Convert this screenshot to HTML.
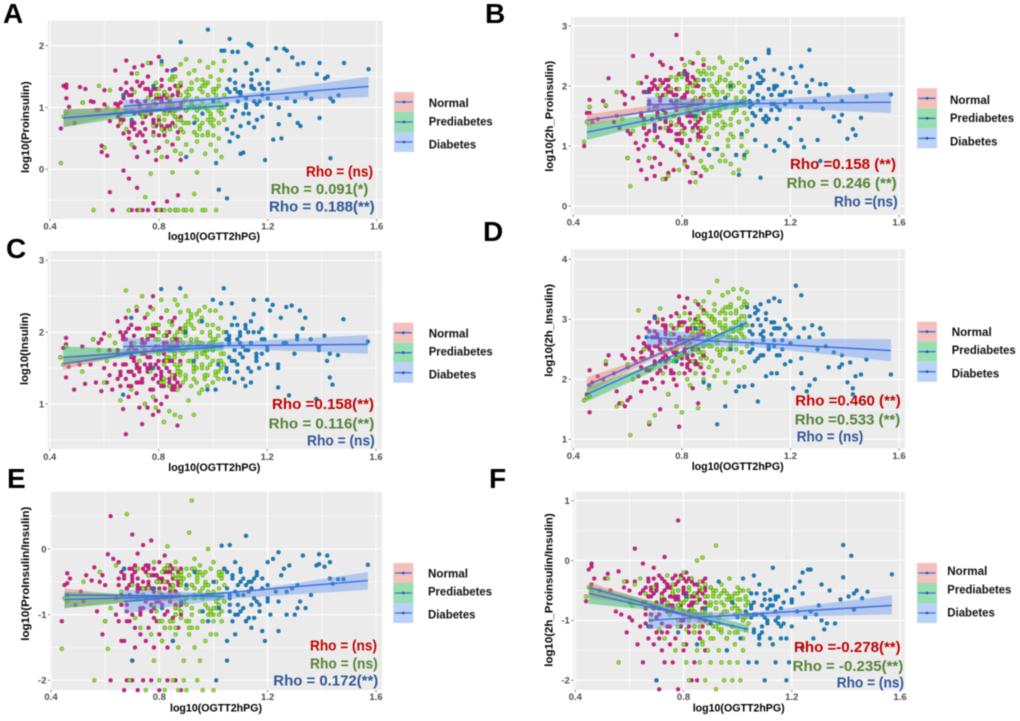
<!DOCTYPE html>
<html lang="en">
<head>
<meta charset="utf-8">
<title>OGTT scatter panels</title>
<style>
html,body{margin:0;padding:0;background:#fff;width:1020px;height:721px;overflow:hidden}
svg{display:block;font-family:"Liberation Sans",Arial,sans-serif;filter:blur(.4px)}
.letter{font-size:28px;font-weight:700;fill:#000}
.axt{font-size:11px;font-weight:700;fill:#000}
.leg{font-size:12px;font-weight:700;fill:#111}
.rho{font-size:15px;font-weight:700}
.r{fill:#C00000}.g{fill:#548235}.b{fill:#2F5597}
</style>
</head>
<body>
<svg id="figure" xmlns="http://www.w3.org/2000/svg" width="1020" height="721" viewBox="0 0 1020 721">
<rect width="1020" height="721" fill="#fff"/>
<g id="plots"></g>

<text class="letter" x="3" y="23">A</text>
<text class="letter" x="485" y="23">B</text>
<text class="letter" x="6" y="258">C</text>
<text class="letter" x="483" y="241">D</text>
<text class="letter" x="7" y="488">E</text>
<text class="letter" x="489" y="488">F</text>

<text class="axt" x="168" y="240" textLength="92" lengthAdjust="spacingAndGlyphs">log10(OGTT2hPG)</text>
<text class="axt" x="691.7" y="238" textLength="92" lengthAdjust="spacingAndGlyphs">log10(OGTT2hPG)</text>
<text class="axt" x="168.3" y="471" textLength="92" lengthAdjust="spacingAndGlyphs">log10(OGTT2hPG)</text>
<text class="axt" x="691.7" y="470" textLength="92" lengthAdjust="spacingAndGlyphs">log10(OGTT2hPG)</text>
<text class="axt" x="170" y="711.7" textLength="92" lengthAdjust="spacingAndGlyphs">log10(OGTT2hPG)</text>
<text class="axt" x="692.7" y="711.7" textLength="92" lengthAdjust="spacingAndGlyphs">log10(OGTT2hPG)</text>

<text class="axt" transform="translate(29 173) rotate(-90)" textLength="91.7" lengthAdjust="spacingAndGlyphs">log10(Proinsulin)</text>
<text class="axt" transform="translate(553 171.7) rotate(-90)" textLength="111" lengthAdjust="spacingAndGlyphs">log10(2h_Proinsulin)</text>
<text class="axt" transform="translate(28 385) rotate(-90)" textLength="72.3" lengthAdjust="spacingAndGlyphs">log10(Insulin)</text>
<text class="axt" transform="translate(552.7 376.7) rotate(-90)" textLength="92.7" lengthAdjust="spacingAndGlyphs">log10(2h_Insulin)</text>
<text class="axt" transform="translate(29 640.7) rotate(-90)" textLength="134" lengthAdjust="spacingAndGlyphs">log10(ProInsulin/Insulin)</text>
<text class="axt" transform="translate(552.7 666.7) rotate(-90)" textLength="153.4" lengthAdjust="spacingAndGlyphs">log10(2h_Proinsulin/Insulin)</text>

<text class="rho r" x="306" y="176.7" textLength="67" lengthAdjust="spacingAndGlyphs">Rho = (ns)</text>
<text class="rho g" x="270.7" y="194" textLength="97.6" lengthAdjust="spacingAndGlyphs">Rho = 0.091(*)</text>
<text class="rho b" x="269" y="211.7" textLength="105.7" lengthAdjust="spacingAndGlyphs">Rho = 0.188(**)</text>

<text class="rho r" x="790" y="169" textLength="106" lengthAdjust="spacingAndGlyphs">Rho =0.158 (**)</text>
<text class="rho g" x="786.7" y="188" textLength="110" lengthAdjust="spacingAndGlyphs">Rho = 0.246 (**)</text>
<text class="rho b" x="834" y="206.7" textLength="63.7" lengthAdjust="spacingAndGlyphs">Rho =(ns)</text>

<text class="rho r" x="272" y="409" textLength="102" lengthAdjust="spacingAndGlyphs">Rho =0.158(**)</text>
<text class="rho g" x="268.7" y="428.3" textLength="105.6" lengthAdjust="spacingAndGlyphs">Rho = 0.116(**)</text>
<text class="rho b" x="307" y="445.3" textLength="67.7" lengthAdjust="spacingAndGlyphs">Rho = (ns)</text>

<text class="rho r" x="795.3" y="405.3" textLength="105.4" lengthAdjust="spacingAndGlyphs">Rho =0.460 (**)</text>
<text class="rho g" x="794.7" y="424.3" textLength="105.6" lengthAdjust="spacingAndGlyphs">Rho =0.533 (**)</text>
<text class="rho b" x="796.7" y="441.7" textLength="66.6" lengthAdjust="spacingAndGlyphs">Rho = (ns)</text>

<text class="rho r" x="310" y="650.7" textLength="67" lengthAdjust="spacingAndGlyphs">Rho = (ns)</text>
<text class="rho g" x="310" y="668.7" textLength="67.7" lengthAdjust="spacingAndGlyphs">Rho = (ns)</text>
<text class="rho b" x="273.3" y="685.7" textLength="105" lengthAdjust="spacingAndGlyphs">Rho = 0.172(**)</text>

<text class="rho r" x="794" y="652" textLength="106.7" lengthAdjust="spacingAndGlyphs">Rho =-0.278(**)</text>
<text class="rho g" x="792.7" y="671" textLength="110.6" lengthAdjust="spacingAndGlyphs">Rho = -0.235(**)</text>
<text class="rho b" x="836.7" y="687.3" textLength="67.3" lengthAdjust="spacingAndGlyphs">Rho = (ns)</text>

<text class="leg" x="428.7" y="107" textLength="40" lengthAdjust="spacingAndGlyphs">Normal</text>
<text class="leg" x="428.7" y="125.3" textLength="64" lengthAdjust="spacingAndGlyphs">Prediabetes</text>
<text class="leg" x="428.7" y="148.3" textLength="47.5" lengthAdjust="spacingAndGlyphs">Diabetes</text>
<text class="leg" x="950" y="104" textLength="40" lengthAdjust="spacingAndGlyphs">Normal</text>
<text class="leg" x="950" y="122" textLength="64" lengthAdjust="spacingAndGlyphs">Prediabetes</text>
<text class="leg" x="950" y="145.3" textLength="47.5" lengthAdjust="spacingAndGlyphs">Diabetes</text>
<text class="leg" x="428.7" y="337.7" textLength="40" lengthAdjust="spacingAndGlyphs">Normal</text>
<text class="leg" x="428.7" y="355.7" textLength="64" lengthAdjust="spacingAndGlyphs">Prediabetes</text>
<text class="leg" x="428.7" y="378.7" textLength="47.5" lengthAdjust="spacingAndGlyphs">Diabetes</text>
<text class="leg" x="951.7" y="336" textLength="40" lengthAdjust="spacingAndGlyphs">Normal</text>
<text class="leg" x="951.7" y="354" textLength="64" lengthAdjust="spacingAndGlyphs">Prediabetes</text>
<text class="leg" x="951.7" y="377.3" textLength="47.5" lengthAdjust="spacingAndGlyphs">Diabetes</text>
<text class="leg" x="428" y="577.7" textLength="40" lengthAdjust="spacingAndGlyphs">Normal</text>
<text class="leg" x="428" y="595.7" textLength="64" lengthAdjust="spacingAndGlyphs">Prediabetes</text>
<text class="leg" x="428" y="618.7" textLength="47.5" lengthAdjust="spacingAndGlyphs">Diabetes</text>
<text class="leg" x="947.3" y="575" textLength="40" lengthAdjust="spacingAndGlyphs">Normal</text>
<text class="leg" x="947.3" y="593.3" textLength="64" lengthAdjust="spacingAndGlyphs">Prediabetes</text>
<text class="leg" x="947.3" y="616.7" textLength="47.5" lengthAdjust="spacingAndGlyphs">Diabetes</text>
</svg>

<script>
// ---- shared x values (log10 OGTT2hPG), read per group ----
const xNormal=[.44,.45,.46,.46,.46,.47,.49,.51,.52,.53,
.55,.56,.57,.58,.59,.59,.60,.60,.61,.62,
.62,.63,.64,.64,.65,.65,.65,.66,.66,.66,
.67,.67,.67,.68,.68,.68,.69,.69,.69,.70,
.70,.70,.70,.71,.71,.71,.72,.72,.72,.72,
.73,.73,.73,.74,.74,.74,.75,.75,.75,.76,
.76,.76,.77,.77,.77,.78,.78,.78,.79,.79,
.79,.80,.80,.80,.81,.81,.81,.82,.82,.82,
.83,.83,.83,.84,.84,.84,.85,.85,.85,.86,
.86,.86,.87,.87,.87,.88,.88,.88,.88,.88,
.68,.70,.72,.74,.76,.78,.80,.82,.84,.86,
.65,.66,.67,.68,.69,.70,.71,.72,.73,.74,
.75,.76,.77,.78,.79,.80,.81,.82,.83,.84,
.85,.86,.87,.88,.66,.68,.70,.72,.74,.76,
.78,.80,.82,.84,.86,.88,.67,.69,.71,.73,
.75,.77,.79,.81,.83,.85,.87,.72,.75,.78,
.80,.82,.84,.86,.70,.74,.77,.79,.81,.83];
const xPrediabetes=[.44,.45,.46,.52,.56,.58,.60,.61,.62,.64,
.66,.68,.69,.70,.71,.72,.73,.74,.75,.76,
.77,.78,.78,.79,.79,.80,.80,.81,.81,.82,
.82,.83,.83,.84,.84,.85,.85,.85,.86,.86,
.86,.87,.87,.87,.88,.88,.88,.89,.89,.89,
.90,.90,.90,.90,.91,.91,.91,.92,.92,.92,
.93,.93,.93,.94,.94,.94,.95,.95,.95,.96,
.96,.96,.97,.97,.97,.98,.98,.98,.99,.99,
.99,1.0,1.0,1.0,1.01,1.01,1.01,1.02,1.02,1.02,
1.03,1.03,1.03,1.04,1.04,1.04,.76,.80,.84,.88,
.92,.96,1.0,.90,.94,.98,.86,.82,.93,1.02,
.74,.76,.78,.80,.82,.84,.86,.88,.90,.92,
.94,.96,.98,1.0,1.02,1.04,.79,.81,.83,.85,
.87,.89,.91,.93,.95,.97,.99,1.01,1.03,.80,
.84,.88,.92,.96,1.0,.78,.82,.86,.90,.94,
.98,1.02,.85,.87,.89,.91,.93,.95,.97,.99,
.83,.86,.88,.90,.92,.94,.96,.98,1.0,1.03];
const xDiabetes=[.67,.70,.78,.81,.85,.88,.90,.93,.96,.98,
1.0,1.01,1.02,1.03,1.04,1.05,1.05,1.06,1.06,1.07,
1.07,1.08,1.08,1.09,1.09,1.10,1.10,1.11,1.12,1.12,
1.13,1.13,1.14,1.14,1.15,1.15,1.16,1.17,1.18,1.18,
1.19,1.20,1.20,1.21,1.22,1.23,1.24,1.24,1.25,1.26,
1.27,1.28,1.29,1.30,1.31,1.32,1.33,1.34,1.36,1.38,
1.39,1.41,1.42,1.43,1.44,1.46,1.48,1.57,1.43,1.39,
1.06,1.09,1.11,1.14,1.17,1.2,1.24,1.27,1.31,1.05,
1.05,1.06,1.07,1.08,1.09,1.1,1.11,1.12,1.13,1.14,
1.15,1.16,1.06,1.08,1.1,1.12,1.14,1.16,1.18,1.2];

// ---- panel A: log10(Proinsulin) ----
const yANormal=[.66,1.35,1.37,1.32,1.15,1.01,.75,1.33,1.08,1.30,
1.10,1.09,.96,.96,.38,.28,1.28,1.05,.22,-.37,
.78,-.66,1.6,1.06,1.0,.85,.7,1.3,.75,1.08,
1.15,.58,-.02,1.76,1.4,.95,-.66,.5,-.15,1.55,
1.2,.75,-.66,.35,.9,1.65,1.42,.2,-.66,-.3,
.6,1.35,1.0,.75,1.68,-.66,.45,1.1,.85,1.5,
-.66,.28,1.72,1.2,.9,-.55,1.3,.6,.15,1.05,
-.66,1.82,.75,.35,1.45,1.1,-.66,.55,1.25,.9,
-.52,1.6,.2,.7,1.3,-.66,1.05,1.5,.4,-.66,
.85,1.62,-.42,1.2,.5,1.0,.65,1.35,.15,.8,
1.25,.95,1.1,.55,1.5,.8,1.15,.65,.95,.3,
1.05,.8,1.2,.95,.6,1.3,.75,1.1,.9,1.4,
.65,1.0,1.25,.8,1.15,.55,1.35,.95,.7,1.1,
1.2,.85,.6,1.05,.9,1.25,.7,1.1,.95,1.3,
.75,1.15,.6,1.0,1.35,.85,.8,1.2,.65,1.05,
1.3,.9,.7,1.15,1.0,.75,1.25,.55,.95,1.1,
.8,1.2,.65,.95,1.1,.85,1.0,1.3,.7,1.15];
const yAPrediabetes=[.1,.85,.92,1.08,-.66,1.35,.35,1.0,1.28,.95,
.75,.65,-.66,.4,1.25,1.55,-.66,.85,-.45,1.72,
-.07,.55,1.1,.3,1.4,-.66,.75,.2,1.7,.9,
-.66,.45,1.2,-.66,.65,1.05,-.05,1.5,.3,-.66,
.95,1.35,-.66,.5,1.7,.8,.25,1.1,-.66,.6,
1.78,.4,1.25,-.66,.75,1.55,1.0,-.66,.3,1.3,
.85,1.6,-.4,.45,1.15,-.05,1.75,.7,1.3,-.66,
.55,1.45,1.0,-.66,.25,1.65,.8,1.2,.4,1.5,
.9,.55,1.72,1.1,-.66,.3,1.3,.75,1.45,.5,
1.0,1.6,.2,1.2,.8,1.75,.9,1.2,1.45,.65,
1.05,.75,1.3,1.15,.95,1.4,1.5,.8,.6,.95,
.9,1.15,.7,1.3,.6,1.05,.85,1.4,.75,1.1,
.55,1.25,.95,.7,1.35,1.0,1.2,.65,.9,1.45,
.8,1.1,1.3,.6,1.0,1.4,.75,1.2,.9,.85,
1.15,.65,1.05,1.35,.8,1.0,1.25,.7,.95,1.45,
.6,1.1,.9,1.3,.75,1.2,1.0,.65,1.35,.85,
1.05,.7,1.2,.95,1.4,.8,1.1,.55,1.25,.9];
const yADiabetes=[1.2,.8,1.35,1.75,1.6,2.06,.2,.75,.9,2.26,
1.1,.1,-.33,1.92,1.92,-.47,.65,2.11,.45,1.9,
.58,1.6,1.3,.53,1.9,.25,1.25,.27,1.72,1.0,
2.03,.75,2.0,1.35,.68,1.1,1.6,1.38,1.2,.85,
.15,1.78,1.4,1.05,.48,1.96,1.6,.73,.5,1.95,
1.92,.88,1.81,1.1,1.7,.7,1.72,1.22,1.14,1.54,
1.72,1.47,1.5,.18,1.1,1.2,1.72,1.62,1.15,.83,
1.45,1.25,.9,1.55,1.1,1.3,1.0,1.15,.75,1.3,
1.05,1.25,.85,1.4,1.1,.7,1.35,1.15,.9,1.45,
1.3,1.05,1.45,.95,1.2,1.05,1.32,.8,1.3,1.15];

// ---- panel B: log10(2h_Proinsulin) ----
const yBNormal=[1.0,1.55,1.77,1.65,1.55,1.4,1.45,1.75,1.67,2.13,
1.4,1.5,1.3,1.9,1.85,1.7,.8,1.25,1.2,2.5,
1.8,1.05,.95,.75,.6,2.05,1.5,1.3,1.9,1.0,
.45,2.15,1.1,1.7,1.25,1.95,2.52,.65,1.45,2.1,
.8,1.35,.5,1.95,1.55,1.15,2.4,1.8,.7,1.3,
2.35,1.0,1.6,.45,2.1,1.4,.55,2.0,1.25,1.75,
2.3,.95,1.5,.6,1.85,2.85,1.2,1.65,.85,2.2,
1.45,2.45,1.05,1.7,.75,2.25,1.3,1.9,.65,1.5,
2.05,1.1,.4,1.75,2.38,.8,1.35,2.1,.55,1.6,
2.0,1.2,.5,1.8,1.45,2.35,.95,1.55,1.95,1.25,
1.6,2.0,1.75,1.4,1.9,1.1,1.8,2.15,1.5,1.3,
1.55,1.9,1.2,1.75,2.05,1.35,1.65,1.05,1.85,1.45,
2.1,1.25,1.7,1.95,1.4,1.1,1.8,2.2,1.5,1.3,
1.6,2.0,1.15,1.75,1.45,1.9,1.25,2.1,1.55,1.35,
1.85,1.05,1.65,2.15,1.4,1.75,1.2,1.95,1.5,2.05,
1.3,1.7,1.1,1.85,1.55,2.0,1.25,1.45,1.9,1.6,
1.35,2.1,1.75,1.15,1.65,1.95,1.5,1.2,1.8,1.4];
const yBPrediabetes=[1.07,1.4,1.65,1.68,1.9,1.45,.8,.33,1.25,2.05,
1.35,.8,1.6,1.1,1.85,2.0,.45,1.3,.5,1.95,
1.5,.9,2.1,.6,1.75,2.2,1.25,.7,2.35,1.6,
1.0,.85,2.4,.55,1.9,2.05,.4,1.45,1.1,2.55,
1.7,.75,2.2,1.3,.65,1.95,2.44,1.05,1.6,.6,
2.1,1.4,.85,2.3,1.75,.65,2.0,.95,1.55,2.3,
1.2,1.85,2.05,.75,2.47,1.5,2.4,.85,1.3,2.1,
1.65,.75,2.2,1.0,1.85,.7,1.45,2.3,.55,2.0,
1.15,1.7,2.35,.85,2.05,1.4,.6,2.44,1.0,1.75,
2.0,.8,1.55,2.4,1.25,.9,2.15,1.7,1.9,1.85,
1.95,1.8,1.6,1.5,2.1,1.2,1.75,2.0,1.35,1.9,
1.85,1.4,2.15,1.25,1.7,2.0,1.5,2.25,1.15,1.9,
1.6,2.1,1.35,1.8,2.3,1.45,1.95,1.2,1.65,2.05,
1.75,1.3,2.2,1.55,1.9,1.1,2.0,1.4,1.7,2.15,
1.25,1.85,1.5,2.1,1.6,1.35,1.95,2.25,1.45,1.75,
2.05,1.15,1.8,1.3,2.2,1.65,1.9,1.4,2.0,1.55,
1.7,2.1,1.25,1.85,1.5,2.15,1.35,1.95,1.6,1.8];
const yBDiabetes=[1.9,1.3,1.75,2.2,1.5,2.1,.85,.95,1.8,2.0,
.85,.52,1.2,.85,2.4,1.9,2.15,1.35,1.7,2.45,
1.1,2.2,1.75,.47,2.05,2.25,1.45,1.0,2.6,2.55,
1.85,1.6,2.27,.92,2.0,1.45,1.1,2.2,1.7,1.05,
1.0,2.3,1.9,2.15,2.05,1.45,2.33,1.1,.98,2.0,
2.6,2.1,1.75,1.1,2.03,1.62,2.03,1.85,1.49,1.41,
1.75,1.12,1.95,1.28,1.18,1.47,1.82,1.86,1.92,1.52,
1.95,2.15,1.5,1.7,1.85,1.3,1.65,1.9,.75,1.65,
1.75,2.0,1.5,1.85,1.6,2.1,1.4,1.95,1.7,2.0,
1.65,1.85,1.55,2.05,1.8,1.45,1.95,1.6,1.9,1.75];

// ---- panel C: log10(Insulin) ----
const yCNormal=[1.65,1.78,1.92,1.83,1.37,1.52,1.2,1.55,1.8,1.28,
1.55,1.9,1.3,1.85,1.9,1.18,1.98,1.5,1.3,1.75,
1.4,1.2,1.85,1.55,2.15,1.35,1.7,2.0,1.45,1.25,
1.9,.93,1.55,.58,2.2,1.35,1.75,1.1,2.05,1.45,
1.8,1.25,2.1,1.6,1.4,1.95,2.3,1.3,1.15,1.75,
1.5,.95,2.05,1.7,1.35,.72,2.2,1.55,1.0,1.9,
1.45,.95,2.35,1.65,1.2,2.5,.85,1.75,1.4,1.05,
2.05,.9,1.6,1.3,2.2,1.45,1.0,1.85,1.25,1.7,
2.3,1.5,1.1,2.0,1.35,1.75,2.15,1.6,1.2,1.9,
1.4,2.2,.7,1.8,1.3,1.55,2.05,1.75,1.45,1.25,
1.9,1.7,1.55,1.85,1.65,1.95,1.5,1.8,1.6,1.35,
1.75,1.4,1.95,1.55,1.25,1.85,1.65,2.05,1.45,1.3,
1.7,1.9,1.5,1.2,1.8,2.1,1.35,1.6,1.95,1.45,
1.75,1.25,1.85,1.55,1.4,2.0,1.65,1.3,1.9,1.5,
2.05,1.7,1.35,1.8,1.2,1.6,1.95,1.45,1.75,1.3,
1.85,1.55,2.1,1.4,1.65,1.25,1.9,1.5,1.75,1.35,
2.0,1.6,1.3,1.8,1.45,1.7,1.95,1.55,1.25,1.85];
const yCPrediabetes=[1.65,1.55,1.8,1.45,1.9,1.75,1.3,1.6,1.95,1.85,
1.05,2.58,2.3,1.2,1.85,2.35,1.6,2.5,1.0,2.25,
1.45,2.32,1.1,1.9,.95,1.7,2.1,1.3,2.45,.75,
1.55,2.0,2.3,.9,1.25,1.85,2.1,1.4,2.45,.85,
1.7,2.38,1.2,2.0,1.55,2.28,.82,1.3,2.0,1.85,
2.5,1.35,1.75,2.1,1.05,2.3,1.6,1.9,1.25,2.25,
1.45,.85,2.05,1.7,1.3,2.25,1.85,1.15,2.3,1.5,
2.0,1.2,1.75,2.35,1.4,1.65,2.1,1.25,1.85,2.3,
1.55,1.3,2.1,1.75,2.3,1.4,1.9,1.6,2.05,1.35,
1.8,2.2,1.5,1.7,2.0,1.35,1.95,1.8,1.65,1.9,
1.85,1.7,1.6,2.05,1.9,1.75,1.55,1.95,1.5,1.45,
1.8,2.05,1.5,1.9,1.35,2.15,1.7,1.45,2.0,1.6,
1.85,2.2,1.4,1.75,1.95,1.55,2.1,1.3,1.65,1.9,
1.5,2.05,1.8,1.35,2.15,1.7,1.95,1.45,1.6,2.0,
1.75,1.4,2.2,1.55,1.85,2.1,1.3,1.65,1.95,1.5,
1.8,2.05,1.9,1.45,1.7,2.15,1.55,1.85,1.35,2.0,
1.6,1.95,1.75,1.4,2.1,1.65,1.85,1.5,1.9,1.7];
const yCDiabetes=[1.13,2.2,1.5,2.6,1.75,2.61,2.0,1.6,2.15,1.2,
2.45,1.2,1.55,2.4,2.61,1.5,2.0,1.35,1.85,2.4,
1.6,2.2,1.3,1.9,1.45,2.0,1.7,1.35,2.1,1.25,
1.75,2.0,1.85,1.45,2.45,2.25,1.6,1.5,2.05,1.7,
1.9,2.45,1.55,2.3,2.38,1.95,1.23,1.5,2.2,1.85,
2.35,1.12,2.37,1.7,1.9,2.3,2.05,2.2,1.9,1.07,
1.75,1.95,1.6,1.37,1.27,1.68,2.18,1.87,1.7,1.8,
1.9,2.1,1.65,1.3,2.0,1.75,1.55,1.85,1.95,1.45,
1.9,1.65,2.1,1.75,1.55,1.95,1.8,2.05,1.5,1.85,
2.0,1.7,1.95,1.6,1.85,1.75,2.15,1.65,1.9,1.8];

// ---- panel D: log10(2h_Insulin) ----
const yDNormal=[1.65,1.75,1.45,2.15,1.9,1.95,2.05,2.0,2.25,2.4,
2.1,1.8,1.6,2.4,2.35,1.55,1.65,2.2,1.7,2.35,
2.5,2.3,2.05,2.7,2.45,1.8,2.2,2.6,1.95,2.35,
2.85,2.15,1.95,1.25,2.55,2.95,2.0,2.7,2.4,3.05,
2.25,1.85,2.8,2.1,2.55,2.95,2.3,1.5,2.65,2.15,
3.0,2.45,1.95,2.75,2.2,2.9,2.35,1.75,2.6,3.05,
2.15,2.5,2.85,2.0,2.45,3.1,1.9,2.35,2.7,1.21,
3.38,2.25,2.65,2.95,2.1,2.5,3.2,2.35,2.8,3.35,
2.15,2.6,3.1,2.4,2.9,1.85,2.55,3.0,2.25,1.6,
2.7,3.25,2.35,2.9,2.2,2.55,3.15,2.75,2.4,2.1,
2.5,2.3,2.6,2.4,2.75,2.45,2.65,2.85,2.5,2.95,
2.35,2.6,2.15,2.8,2.45,2.25,2.7,2.5,2.9,2.3,
2.6,2.1,2.75,2.45,2.95,2.35,2.65,2.2,2.85,2.5,
2.3,2.75,2.95,2.4,2.5,2.15,2.7,2.3,2.85,2.6,
2.4,2.95,2.25,2.7,2.5,2.85,2.55,2.2,2.75,2.35,
2.65,2.1,2.9,2.45,2.7,2.3,2.8,2.5,2.35,2.6,
2.9,2.4,2.75,2.25,2.55,2.8,2.45,2.65,2.95,2.3];
const yDPrediabetes=[1.65,1.7,1.72,2.3,1.55,1.6,2.25,1.07,2.0,3.15,
2.5,1.28,2.2,1.4,3.0,3.18,2.1,2.65,1.75,2.9,
2.3,1.55,2.85,2.1,3.05,1.45,2.4,2.7,3.1,2.0,
2.55,3.0,1.9,2.3,2.75,3.3,2.1,2.5,3.05,1.52,
2.8,2.25,3.2,2.45,2.0,2.9,3.3,2.35,2.65,3.1,
2.2,2.75,3.45,1.85,2.55,3.0,2.3,2.8,3.25,2.05,
2.6,3.64,2.15,2.9,2.4,3.1,3.4,2.5,2.75,1.95,
3.0,2.35,3.45,2.7,2.1,3.2,2.55,2.85,3.5,2.3,
2.95,2.5,3.15,2.65,3.35,2.15,2.8,3.5,2.45,3.05,
2.7,3.25,2.2,2.9,3.45,2.55,2.75,2.6,2.9,2.8,
3.0,2.85,3.1,2.7,2.95,2.6,2.45,2.55,2.75,3.2,
2.5,2.75,2.35,2.9,2.6,2.3,3.0,2.55,2.8,3.15,
2.45,2.9,3.1,2.65,2.85,3.25,2.4,2.7,2.55,2.95,
2.35,2.75,3.05,2.5,2.85,3.2,2.65,3.0,3.3,2.6,
2.8,2.45,2.95,3.1,2.7,2.5,2.6,2.85,3.05,2.4,
3.25,2.75,2.55,2.9,2.35,3.0,2.65,3.15,2.5,2.8,
2.7,2.95,3.1,2.55,2.8,2.4,3.2,2.7,2.95,3.05];
const yDDiabetes=[2.7,3.02,2.3,2.6,2.85,1.95,1.9,1.25,1.55,2.5,
1.8,1.88,2.9,1.88,3.2,2.45,3.05,1.9,2.75,3.2,
2.3,3.0,1.63,2.75,3.25,2.4,2.8,2.05,3.3,2.55,
2.95,2.1,3.35,2.55,2.85,2.1,3.3,2.65,2.25,3.0,
2.9,2.3,2.6,1.85,3.56,2.7,3.4,2.1,2.85,1.8,
1.9,2.9,2.0,2.5,2.85,2.75,2.55,2.2,2.45,2.2,
2.25,1.95,2.28,1.85,2.05,2.08,2.33,2.08,1.75,2.4,
2.9,2.4,3.1,2.65,2.5,2.85,2.35,2.7,2.85,2.45,
2.8,2.5,3.1,2.35,2.9,2.65,3.0,2.5,2.75,2.95,
2.4,2.85,2.6,3.15,2.7,2.55,2.85,2.4,2.75,2.6];

// ---- panel E: log10(ProInsulin/Insulin) ----
const yENormal=[-1.1,-.55,-.37,-.52,-.7,-.45,-.85,-.65,-.8,-.4,
-.48,-.28,-.95,-.5,-1.3,-.4,-1.1,-.55,-.08,-2.0,
.5,-.15,-.75,-1.0,-.2,-1.1,-.55,-1.4,-.35,-.85,
-2.15,-.4,-1.4,-.6,-2.0,-.95,-.3,-1.1,-.7,-1.7,
.22,-.5,-2.0,-1.2,-.35,-1.5,-.75,-.07,-2.15,-.45,
-1.0,-.6,-1.3,.06,-.3,-2.0,-.8,-1.4,-.25,-.55,
-1.2,-.4,.13,-.95,-2.0,-.65,-1.5,-.3,-1.1,-.5,
-.75,-1.3,-.2,-2.15,-.45,-1.4,-.85,-.1,-1.2,-.6,
-1.5,-.35,-2.0,-.75,-.25,-1.1,-.55,-1.4,-.3,-.9,
-2.0,-.45,-1.2,-.7,-.35,-1.0,-.5,-2.15,-.85,-.3,
-.6,-.45,-.55,-.7,-.5,-.4,-.6,-.35,-.8,-.65,
-.45,-.7,-.3,-.85,-.55,-1.0,-.35,-.65,-.9,-.5,
-.75,-.25,-.6,-1.05,-.4,-.8,-.5,-.3,-.95,-.65,
-.45,-.85,-.55,-.35,-.7,-1.1,-.4,-.6,-.9,-.3,
-.75,-.5,-1.0,-.35,-.65,-.85,-.45,-.55,-.25,-.95,
-.6,-.4,-.8,-.7,-.3,-1.05,-.5,-.65,-.35,-.9,
-.45,-.75,-.55,-1.0,-.3,-.6,-.85,-.4,-.7,-.5];
const yEPrediabetes=[-1.52,-.75,-.8,-.5,-2.0,-.35,-1.1,-1.52,-.9,-.25,
-.65,.53,-2.0,-.55,-1.05,-.3,-1.2,-.7,-2.15,-.4,
-1.3,-.2,-1.7,-.95,-.5,-1.1,-2.0,-.35,-1.4,-.75,
-2.15,-.25,.04,-1.2,-.6,-1.1,-2.0,-.4,-.9,-1.3,
-.2,-.7,-1.5,-2.15,-.35,-1.05,-.55,-2.0,-1.7,-.8,
-.3,-1.1,-.6,-2.15,.25,-.4,-1.3,.74,-1.0,-.55,
-1.5,-.15,-.75,-2.0,-1.2,-.45,-.95,-1.7,-.25,-.6,
-1.1,-2.15,-.35,-.85,-1.4,0,-.55,-1.0,-.3,-1.3,
-.7,-2.15,-.2,-1.1,-.5,-1.3,-.9,-.4,-.75,-.6,
-1.1,-.35,-.95,-.55,-.3,-.8,-.6,-.5,-.7,-.45,
-.55,-.4,-.65,-.75,-.5,-.9,-1.0,-.3,-.6,-.85,
-.6,-.4,-.85,-1.1,-.5,-.7,-.3,-.95,-.55,-1.2,
-.4,-.75,-.65,-1.0,-.35,-.8,-.5,-1.1,-.3,-.6,
-.9,-.45,-1.2,-.7,-.35,-.55,-1.0,-.8,-.4,-.65,
-1.1,-.5,-.3,-.75,-.9,-.6,-1.2,-.45,-.85,-.35,
-.7,-1.0,-.55,-.4,-.8,-1.1,-.3,-.65,-.5,-.95,
-.75,-1.2,-.4,-.6,-.9,-.35,-1.1,-.55,-.7,-.45];
const yEDiabetes=[-.3,-1.7,-.6,-.9,-1.4,-.8,-.55,-.35,-.95,-1.1,
-.5,-2.0,-.9,.05,-.3,-1.7,-1.4,.06,-.7,-1.1,
-.4,-.2,-1.3,-.85,-.55,-.95,-.3,-.7,-1.1,.2,
-.65,-.5,-1.2,-.85,-.45,-1.05,-.35,-.95,-.6,-1.25,
-1.4,-.2,-.8,-1.0,-.15,-.65,-.05,-1.25,-.4,-.3,
-1.0,-.25,-.6,-1.0,-.55,-.8,-.1,-.9,-.7,-.25,
-.08,-.27,-.1,-.2,-.53,-.46,-.46,-.24,-.45,-.23,
-.75,-1.0,-.45,-.6,-.85,-.55,-.8,-.65,-.9,-.35,
-.6,-.85,-.45,-1.0,-.7,-.35,-.9,-.55,-1.05,-.5,
-.75,-.4,-.95,-.65,-.5,-1.1,-.6,-.8,-.45,-.75];

// ---- panel F: log10(2h_Proinsulin/Insulin) ----
const yFNormal=[-.68,-.15,-.05,-.1,-.4,-.3,-.5,-.3,-.22,-.5,
-.85,-.18,-.9,-.45,-.35,-1.2,-.5,-.95,-1.0,.2,
-.35,-1.4,-.55,-1.1,-.05,-.7,-1.7,-.45,-.9,-1.05,
-.3,-1.3,-.6,-.75,-1.1,-.5,-.12,-1.4,-.8,-2.0,
-.45,-1.2,-.7,-2.15,-.25,-1.3,-.55,-1.05,-1.5,-.65,
-.35,-1.7,.06,-.75,-1.2,-.45,-1.1,-.6,-1.4,-.3,
-.8,-1.7,-.4,-1.3,-.65,.67,-2.15,-.5,-1.1,-.25,
-.75,-1.5,-.3,-1.0,-.6,-1.4,-.2,-.85,-1.2,-.45,
-2.0,-.7,-.3,-1.1,-.55,-1.7,-.4,-.9,-2.0,-.5,
-1.3,-.65,-.35,-1.1,-.8,-.5,-1.5,-.7,-.45,-1.0,
-.6,-.5,-.7,-.4,-.55,-.65,-.45,-.75,-.6,-.5,
-.5,-.7,-.35,-.9,-.55,-.4,-.8,-.3,-.65,-1.1,
-.45,-.6,-.25,-.75,-1.0,-.5,-.35,-.85,-.6,-.4,
-.7,-1.2,-.55,-.3,-.8,-.45,-.95,-.65,-.4,-.75,
-.35,-.55,-1.1,-.85,-.45,-.7,-.6,-.3,-.9,-.5,
-.75,-.4,-1.0,-.65,-.35,-.55,-.8,-1.2,-.45,-.6,
-.9,-.3,-.7,-.5,-.4,-.85,-.6,-1.1,-.55,-.75];
const yFPrediabetes=[-.6,-.45,-.48,-.3,-1.7,-.35,-.7,-.75,-.4,-.3,
-.55,-1.0,-.45,-.75,-1.15,-.6,-1.3,-.25,-.9,-.4,
-1.5,-.5,-1.1,-.3,-.8,-1.4,-.2,-.65,-1.7,-.45,
-2.0,-.85,-.3,-1.2,-.55,-1.5,0,-.7,-1.7,-.35,
-1.1,-.5,.05,-1.35,-.85,-2.0,-.4,-1.2,-.6,-1.5,
-.9,-.45,-1.7,-.7,-1.3,-.5,-1.1,-2.15,-.8,.25,
-1.5,-.6,-.95,-1.7,-.4,-1.2,-.75,-2.0,-.5,-1.3,
-.85,-1.5,-.6,-1.7,-.3,-1.1,-.7,-2.0,-.55,-1.4,
-.9,-1.7,-.45,-1.2,-.65,-2.0,-.85,-1.0,-.5,-1.3,
-.75,-1.15,-.6,-1.05,-.9,-.7,-.55,-.7,-.85,-.6,
-.5,-.65,-.8,-.45,-.7,-.6,-1.0,-.5,-1.15,-.95,
-.7,-.5,-1.0,-.85,-.6,-1.2,-.45,-.9,-.75,-1.1,
-.55,-1.3,-.8,-.65,-1.0,-.5,-.7,-1.15,-.9,-.6,
-1.4,-.75,-.55,-1.05,-.85,-.65,-1.2,-.5,-.95,-.7,
-1.1,-.6,-.8,-1.3,-.55,-.75,-1.0,-.9,-.45,-1.15,
-.65,-1.5,-.7,-.85,-1.05,-.6,-.95,-.5,-1.2,-.75,
-.8,-1.0,-.6,-1.3,-.7,-.9,-.55,-1.1,-.85,-.65];
const yFDiabetes=[-1.1,-2.0,-1.2,-.6,-1.4,-.8,-1.05,-.35,-1.5,-.7,
-.95,-1.3,-.3,-.85,-1.7,-.55,-.75,-1.2,-.25,-1.7,
-.9,-.4,-1.4,-.75,-1.2,-.55,-2.0,-1.0,-.65,-1.3,
-.12,-.75,-1.7,-.6,-1.05,-.95,-1.3,-.7,-2.0,-.5,
-1.7,-.65,-1.1,-.45,-.85,-.35,-.2,-1.45,-.95,-.15,
-.15,-1.3,-.9,-.75,-.4,-1.15,-1.05,-.5,-1.05,-.65,
.26,-.6,.08,-.55,-.5,-.63,-.52,-.23,-.82,-.28,
-.9,-1.1,-.8,-.65,-1.05,-.7,-.55,-.85,-1.0,-.95,
-.8,-1.15,-.55,-1.3,-.9,-.65,-1.05,-.75,-1.4,-.85,
-.6,-1.1,-.7,-1.25,-.95,-.5,-1.0,-.8,-1.3,-.65];

// ---- regression fits: x stations (start, middle, end) per group ----
const fitXNormal=[.45,.70,.88];
const fitXPrediabetes=[.45,.80,1.04];
const fitXDiabetes=[.67,1.05,1.57];

// fit line y at start/end, then band lower and upper y at the three stations
const fitANormal=[.83,1.0], bandALowNormal=[.68,.93,.93], bandAHighNormal=[.97,1.02,1.08];
const fitAPrediabetes=[.83,1.03], bandALowPrediabetes=[.68,.93,.97], bandAHighPrediabetes=[.97,1.0,1.09];
const fitADiabetes=[1.02,1.34], bandALowDiabetes=[.92,1.08,1.17], bandAHighDiabetes=[1.12,1.18,1.5];

const fitBNormal=[1.43,1.7], bandBLowNormal=[1.33,1.6,1.58], bandBHighNormal=[1.53,1.68,1.8];
const fitBPrediabetes=[1.23,1.75], bandBLowPrediabetes=[1.1,1.5,1.65], bandBHighPrediabetes=[1.37,1.6,1.8];
const fitBDiabetes=[1.69,1.73], bandBLowDiabetes=[1.58,1.65,1.55], bandBHighDiabetes=[1.82,1.76,1.9];

const fitCNormal=[1.56,1.8], bandCLowNormal=[1.48,1.7,1.73], bandCHighNormal=[1.65,1.74,1.87];
const fitCPrediabetes=[1.65,1.8], bandCLowPrediabetes=[1.55,1.7,1.74], bandCHighPrediabetes=[1.8,1.75,1.87];
const fitCDiabetes=[1.8,1.83], bandCLowDiabetes=[1.7,1.77,1.7], bandCHighDiabetes=[1.92,1.86,1.96];

const fitDNormal=[1.9,2.75], bandDLowNormal=[1.78,2.35,2.65], bandDHighNormal=[2.03,2.42,2.85];
const fitDPrediabetes=[1.75,2.95], bandDLowPrediabetes=[1.63,2.35,2.88], bandDHighPrediabetes=[1.87,2.42,3.03];
const fitDDiabetes=[2.7,2.48], bandDLowDiabetes=[2.55,2.55,2.3], bandDHighDiabetes=[2.85,2.68,2.67];

const fitENormal=[-.77,-.72], bandELowNormal=[-.9,-.8,-.8], bandEHighNormal=[-.6,-.72,-.65];
const fitEPrediabetes=[-.7,-.72], bandELowPrediabetes=[-.9,-.77,-.77], bandEHighPrediabetes=[-.65,-.7,-.65];
const fitEDiabetes=[-.8,-.48], bandELowDiabetes=[-.98,-.76,-.62], bandEHighDiabetes=[-.62,-.68,-.35];

const fitFNormal=[-.45,-1.0], bandFLowNormal=[-.62,-.78,-1.08], bandFHighNormal=[-.36,-.72,-.92];
const fitFPrediabetes=[-.55,-1.15], bandFLowPrediabetes=[-.72,-.88,-1.22], bandFHighPrediabetes=[-.42,-.8,-1.08];
const fitFDiabetes=[-1.0,-.75], bandFLowDiabetes=[-1.15,-.95,-.9], bandFHighDiabetes=[-.85,-.87,-.58];

// ---- tick labels ----
const xTicks=[0.4,0.8,1.2,1.6];
const xMinorTicks=[0.6,1.0,1.4];
const yTicksA=[0,1,2], yMinorA=[-0.5,0.5,1.5];
const yTicksB=[0,1,2,3], yMinorB=[0.5,1.5,2.5];
const yTicksC=[1,2,3], yMinorC=[0.5,1.5,2.5];
const yTicksD=[1,2,3,4], yMinorD=[1.5,2.5,3.5];
const yTicksE=[-2,-1,0], yMinorE=[-1.5,-0.5,0.5];
const yTicksF=[-2,-1,0,1], yMinorF=[-1.5,-0.5,0.5];

// ---- layout (pixels) kept apart from the data ----
const NS='http://www.w3.org/2000/svg';
const panels=[
{id:'a',L:47.7,R:382.7,T:20.7,B:219,x04:50,x16:376.7,v1:2,p1:45.7,v2:0,p2:169.3,xLab:229.3,legX:394,legY:92,yt:yTicksA,ym:yMinorA,
 pts:[yANormal,yAPrediabetes,yADiabetes],fit:[fitANormal,fitAPrediabetes,fitADiabetes],lo:[bandALowNormal,bandALowPrediabetes,bandALowDiabetes],hi:[bandAHighNormal,bandAHighPrediabetes,bandAHighDiabetes]},
{id:'b',L:570.7,R:905,T:17,B:215,x04:573.3,x16:899,v1:3,p1:26,v2:0,p2:206,xLab:225.7,legX:917,legY:88.3,yt:yTicksB,ym:yMinorB,
 pts:[yBNormal,yBPrediabetes,yBDiabetes],fit:[fitBNormal,fitBPrediabetes,fitBDiabetes],lo:[bandBLowNormal,bandBLowPrediabetes,bandBLowDiabetes],hi:[bandBHighNormal,bandBHighPrediabetes,bandBHighDiabetes]},
{id:'c',L:47.7,R:382,T:251,B:449,x04:49.7,x16:376,v1:3,p1:260.3,v2:1,p2:404,xLab:460,legX:393.3,legY:322.7,yt:yTicksC,ym:yMinorC,
 pts:[yCNormal,yCPrediabetes,yCDiabetes],fit:[fitCNormal,fitCPrediabetes,fitCDiabetes],lo:[bandCLowNormal,bandCLowPrediabetes,bandCLowDiabetes],hi:[bandCHighNormal,bandCHighPrediabetes,bandCHighDiabetes]},
{id:'d',L:570.7,R:905,T:249.3,B:448.3,x04:573.3,x16:899,v1:4,p1:259.3,v2:1,p2:439.3,xLab:459,legX:917,legY:321.7,yt:yTicksD,ym:yMinorD,
 pts:[yDNormal,yDPrediabetes,yDDiabetes],fit:[fitDNormal,fitDPrediabetes,fitDDiabetes],lo:[bandDLowNormal,bandDLowPrediabetes,bandDLowDiabetes],hi:[bandDHighNormal,bandDHighPrediabetes,bandDHighDiabetes]},
{id:'e',L:50,R:382,T:491.7,B:690,x04:51,x16:376,v1:0,p1:549,v2:-2,p2:680.3,xLab:700,legX:393.3,legY:563,yt:yTicksE,ym:yMinorE,
 pts:[yENormal,yEPrediabetes,yEDiabetes],fit:[fitENormal,fitEPrediabetes,fitEDiabetes],lo:[bandELowNormal,bandELowPrediabetes,bandELowDiabetes],hi:[bandEHighNormal,bandEHighPrediabetes,bandEHighDiabetes]},
{id:'f',L:573.3,R:905,T:491.7,B:690,x04:575.3,x16:900,v1:1,p1:500.7,v2:-2,p2:680.3,xLab:700,legX:917,legY:563,yt:yTicksF,ym:yMinorF,
 pts:[yFNormal,yFPrediabetes,yFDiabetes],fit:[fitFNormal,fitFPrediabetes,fitFDiabetes],lo:[bandFLowNormal,bandFLowPrediabetes,bandFLowDiabetes],hi:[bandFHighNormal,bandFHighPrediabetes,bandFHighDiabetes]}
];
const groupNames=['normal','prediabetes','diabetes'];
const groupX=[xNormal,xPrediabetes,xDiabetes];
const groupFitX=[fitXNormal,fitXPrediabetes,fitXDiabetes];
const dotFill=['#E0188A','#8CEB22','#0C84D0'];
const bandFill=['rgba(240,130,120,.5)','rgba(50,185,105,.5)','rgba(100,150,240,.42)'];
const keyFill=['#F4C0BC','#97DFB0','#BBD2F7'];
const lineColor='#3C6EE0';

function mk(tag,parent){
  const e=document.createElementNS(NS,tag);
  parent.appendChild(e);
  return e;
}
function drawPanel(p){
  const sx=v=>p.x04+(v-0.4)*(p.x16-p.x04)/1.2;
  const sy=v=>p.p1+(v-p.v1)*(p.p2-p.p1)/(p.v2-p.v1);
  const root=document.getElementById('plots');
  const g=mk('g',root);
  
  

  const bg=mk('rect',g);
  bg.setAttribute('x',p.L);bg.setAttribute('y',p.T);
  bg.setAttribute('width',p.R-p.L);bg.setAttribute('height',p.B-p.T);
  bg.setAttribute('fill','#EBEBEB');
  
  

  function grid(x1,y1,x2,y2,w,name){
    const l=mk('line',g);
    l.setAttribute('x1',x1);l.setAttribute('y1',y1);l.setAttribute('x2',x2);l.setAttribute('y2',y2);
    l.setAttribute('stroke','#fff');l.setAttribute('stroke-width',w);
    
    
  }
  xMinorTicks.forEach(v=>grid(sx(v),p.T,sx(v),p.B,.6,'x-minor-gridline'));
  p.ym.forEach(v=>grid(p.L,sy(v),p.R,sy(v),.6,'y-minor-gridline'));
  xTicks.forEach(v=>grid(sx(v),p.T,sx(v),p.B,1.1,'x-major-gridline'));
  p.yt.forEach(v=>grid(p.L,sy(v),p.R,sy(v),1.1,'y-major-gridline'));

  xTicks.forEach(v=>{
    const t=mk('line',g);
    t.setAttribute('x1',sx(v));t.setAttribute('x2',sx(v));t.setAttribute('y1',p.B);t.setAttribute('y2',p.B+2);
    t.setAttribute('stroke','#444');t.setAttribute('stroke-width',.7);
    
    
    const s=mk('text',g);
    s.setAttribute('x',sx(v));s.setAttribute('y',p.xLab);s.setAttribute('text-anchor','middle');
    s.setAttribute('font-size','9.5');s.setAttribute('font-weight','700');s.setAttribute('fill','#4D4D4D');
    
    
    s.textContent=v.toFixed(1);
  });
  p.yt.forEach(v=>{
    const t=mk('line',g);
    t.setAttribute('x1',p.L-2);t.setAttribute('x2',p.L);t.setAttribute('y1',sy(v));t.setAttribute('y2',sy(v));
    t.setAttribute('stroke','#444');t.setAttribute('stroke-width',.7);
    
    
    const s=mk('text',g);
    s.setAttribute('x',p.L-3.5);s.setAttribute('y',sy(v)+3.3);s.setAttribute('text-anchor','end');
    s.setAttribute('font-size','9.5');s.setAttribute('font-weight','700');s.setAttribute('fill','#4D4D4D');
    
    
    s.textContent=String(v);
  });

  groupNames.forEach((name,gi)=>{
    const pg=mk('g',g);
    
    
    groupX[gi].forEach((xv,i)=>{
      const yv=p.pts[gi][i];
      if(yv===undefined) return;
      const c=mk('circle',pg);
      c.setAttribute('cx',sx(xv).toFixed(2));
      c.setAttribute('cy',sy(yv).toFixed(2));
      c.setAttribute('r','1.95');
      c.setAttribute('fill',dotFill[gi]);
      c.setAttribute('stroke','#2a2a2a');
      c.setAttribute('stroke-width','.3');
      
      
    });
  });

  groupNames.forEach((name,gi)=>{
    const fx=groupFitX[gi];
    const band=mk('polygon',g);
    const up=fx.map((v,i)=>sx(v).toFixed(1)+','+sy(p.hi[gi][i]).toFixed(1));
    const dn=fx.map((v,i)=>sx(v).toFixed(1)+','+sy(p.lo[gi][i]).toFixed(1)).reverse();
    band.setAttribute('points',up.concat(dn).join(' '));
    band.setAttribute('fill',bandFill[gi]);
    
    
  });
  groupNames.forEach((name,gi)=>{
    const fx=groupFitX[gi];
    const l=mk('line',g);
    l.setAttribute('x1',sx(fx[0]));l.setAttribute('y1',sy(p.fit[gi][0]));
    l.setAttribute('x2',sx(fx[2]));l.setAttribute('y2',sy(p.fit[gi][1]));
    l.setAttribute('stroke',lineColor);l.setAttribute('stroke-width','1.4');
    
    
  });

  groupNames.forEach((name,gi)=>{
    const top=p.legY+gi*20;
    const k=mk('rect',g);
    k.setAttribute('x',p.legX);k.setAttribute('y',top);k.setAttribute('width',20);k.setAttribute('height',20);
    k.setAttribute('fill',keyFill[gi]);
    
    
    const l=mk('line',g);
    l.setAttribute('x1',p.legX+1.5);l.setAttribute('x2',p.legX+18.5);
    l.setAttribute('y1',top+10);l.setAttribute('y2',top+10);
    l.setAttribute('stroke',lineColor);l.setAttribute('stroke-width','1.3');
    
    
    const d=mk('circle',g);
    d.setAttribute('cx',p.legX+10);d.setAttribute('cy',top+10);d.setAttribute('r','1.4');
    d.setAttribute('fill','#2a5fa8');
    
    
  });
}
panels.forEach(drawPanel);
</script>
</body>
</html>
